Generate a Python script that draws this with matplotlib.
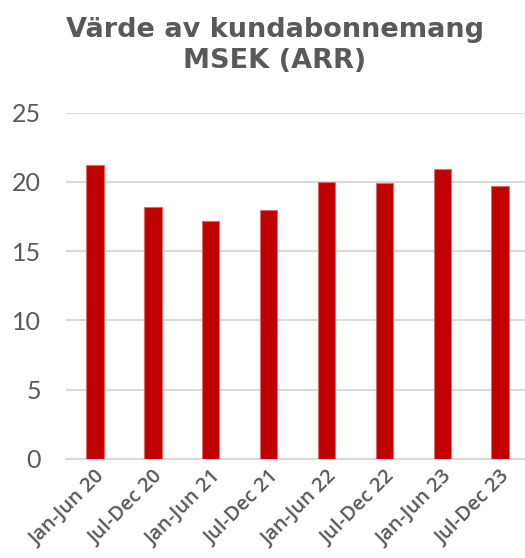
import matplotlib
matplotlib.use("Agg")
import matplotlib.pyplot as plt

periods = ["Jan-Jun 20", "Jul-Dec 20", "Jan-Jun 21", "Jul-Dec 21",
           "Jan-Jun 22", "Jul-Dec 22", "Jan-Jun 23", "Jul-Dec 23"]
arr_msek = [21.2, 18.2, 17.2, 18.0, 20.0, 19.9, 20.9, 19.7]
yticks = [0, 5, 10, 15, 20, 25]

grey = "#595959"
plt.rcParams["font.family"] = ["Open Sans", "DejaVu Sans"]

fig = plt.figure(figsize=(5.25, 5.58), dpi=100)
ax = fig.add_axes([66 / 525, 99.3 / 558, (525 - 66) / 525, (445.3 - 99.3) / 558])

x = range(len(periods))
ax.bar(x, arr_msek, width=0.3, color="#c00000", edgecolor="#e36a6a",
       linewidth=0.8, zorder=3)

ax.set_ylim(0, 25)
ax.set_xlim(-0.5, 7.43)
ax.set_yticks(yticks)
ax.set_yticklabels([str(t) for t in yticks], fontsize=18, color=grey,
                   family="Lato")
ax.set_xticks(list(x))
ax.set_xticklabels(periods, rotation=45, ha="right", rotation_mode="anchor",
                   fontsize=14.5, color=grey, fontweight="semibold")
ax.tick_params(axis="both", length=0)
ax.tick_params(axis="y", pad=18)
ax.tick_params(axis="x", pad=6)

ax.grid(axis="y", color="#d9d9d9", linewidth=1.5, zorder=0)
for s in ["top", "right", "left"]:
    ax.spines[s].set_visible(False)
ax.spines["bottom"].set_color("#d9d9d9")
ax.spines["bottom"].set_linewidth(1.5)

fig.text(0.523, 0.97, "Värde av kundabonnemang\nMSEK (ARR)", ha="center",
         va="top", fontsize=19.5, fontweight="bold", color=grey,
         family="DejaVu Sans", linespacing=1.25)

fig.savefig("out.png", dpi=100)
